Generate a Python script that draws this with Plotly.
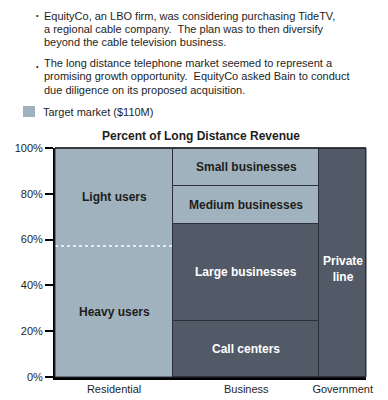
import plotly.graph_objects as go

# ---- data ----
columns = ["Residential", "Business", "Government"]
col_widths = [38, 47, 15]  # share of total long distance revenue (%)
segments = {
    "Residential": ["Heavy users", "Light users"],
    "Business": ["Call centers", "Large businesses", "Medium businesses", "Small businesses"],
    "Government": ["Private line"],
}
seg_values = {
    "Residential": [57.2, 42.8],
    "Business": [24.5, 42.5, 16.5, 16.5],
    "Government": [100],
}
target = {"Light users", "Heavy users", "Medium businesses", "Small businesses"}
seg_labels = {"Private line": "Private<br>line"}
y_ticks = [0, 20, 40, 60, 80, 100]
y_ticktext = ["0%", "20%", "40%", "60%", "80%", "100%"]

LIGHT = "#a0b2bd"
DARK = "#525a68"
EDGE = "#2a2f38"
TXT = "#1e1e1e"

W, H = 388, 400
L, R, T, B = 55, 366, 148, 377


def px(p):
    return (p - L) / (R - L)


def py(p):
    return (B - p) / (B - T)


fig = go.Figure()
annotations = []
shapes = []

left = 0
centers = []
for col, w in zip(columns, col_widths):
    c = left + w / 2
    centers.append(c)
    base = 0
    for name, v in zip(segments[col], seg_values[col]):
        is_t = name in target
        fig.add_trace(go.Bar(
            x=[c], y=[v], base=[base], width=[w],
            marker=dict(color=LIGHT if is_t else DARK,
                        line=dict(color=EDGE, width=0 if col == "Residential" else 1)),
            showlegend=False, hoverinfo="skip",
        ))
        yl = base + v / 2
        if name == "Private line":
            yl -= 3
        annotations.append(dict(
            x=c, y=yl, xref="x", yref="y", showarrow=False,
            text="<b>%s</b>" % seg_labels.get(name, name),
            font=dict(size=12, color=TXT if is_t else "white",
                      family="Liberation Sans, Arial, sans-serif"),
        ))
        base += v
    if col == "Residential":
        shapes.append(dict(type="line", xref="x", yref="y",
                           x0=left, x1=left + w,
                           y0=seg_values[col][0], y1=seg_values[col][0],
                           line=dict(color="white", width=1.5, dash="dot")))
    left += w

# frame around plot
shapes.append(dict(type="rect", xref="paper", yref="paper", x0=0, x1=1, y0=0, y1=1,
                   line=dict(color=EDGE, width=1), layer="above"))
shapes.append(dict(type="line", xref="paper", yref="paper", x0=0, x1=1, y0=1, y1=1,
                   line=dict(color="#222", width=1.5), layer="above"))

# title
annotations.append(dict(x=px(201), y=py(136), xref="paper", yref="paper", showarrow=False,
                        xanchor="center", yanchor="middle",
                        text="<b>Percent of Long Distance Revenue</b>",
                        font=dict(size=12, color=TXT)))

# bullet text
para1 = ["EquityCo, an LBO firm, was considering purchasing TideTV,",
         "a regional cable company.  The plan was to then diversify",
         "beyond the cable television business."]
para2 = ["The long distance telephone market seemed to represent a",
         "promising growth opportunity.  EquityCo asked Bain to conduct",
         "due diligence on its proposed acquisition."]
for lines, y0 in ((para1, 15.5), (para2, 63)):
    for i, t in enumerate(lines):
        annotations.append(dict(x=px(42), y=py(y0 + i * 13.3), xref="paper", yref="paper",
                                showarrow=False, xanchor="left", yanchor="middle",
                                text=t, font=dict(size=11, color=TXT)))
annotations.append(dict(x=px(41), y=py(15), xref="paper", yref="paper", showarrow=False,
                        xanchor="right", yanchor="middle", text="•",
                        font=dict(size=7, color=TXT)))
annotations.append(dict(x=px(41), y=py(66), xref="paper", yref="paper", showarrow=False,
                        xanchor="right", yanchor="middle", text="•",
                        font=dict(size=7, color=TXT)))

# legend
shapes.append(dict(type="rect", xref="paper", yref="paper",
                   x0=px(23), x1=px(35), y0=py(117), y1=py(106),
                   fillcolor=LIGHT, line=dict(width=0)))
annotations.append(dict(x=px(41), y=py(112), xref="paper", yref="paper", showarrow=False,
                        xanchor="left", yanchor="middle", text="Target market ($110M)",
                        font=dict(size=11, color=TXT)))

fig.update_layout(
    width=W, height=H,
    margin=dict(l=L, r=W - R, t=T, b=H - B, pad=0, autoexpand=False),
    paper_bgcolor="white", plot_bgcolor="white",
    barmode="overlay", bargap=0,
    font=dict(family="Liberation Sans, Arial, sans-serif", size=11, color=TXT),
    annotations=annotations, shapes=shapes,
    showlegend=False,
)
fig.update_xaxes(range=[0, 100], tickvals=centers, ticktext=columns, ticks="",
                 showgrid=False, zeroline=False, showline=True, linecolor="black",
                 linewidth=3, tickfont=dict(size=11, color=TXT), fixedrange=True,
                 automargin=False)
fig.update_yaxes(range=[0, 100], tickvals=y_ticks, ticktext=y_ticktext,
                 ticks="outside", ticklen=8, tickwidth=1.5, tickcolor="black",
                 showgrid=False, zeroline=False, showline=True, linecolor="black",
                 linewidth=2, tickfont=dict(size=11, color=TXT), fixedrange=True,
                 automargin=False)

fig.write_html("out.html", config={"displayModeBar": False},
               post_script="document.body.style.margin='0';document.body.style.padding='0';")
